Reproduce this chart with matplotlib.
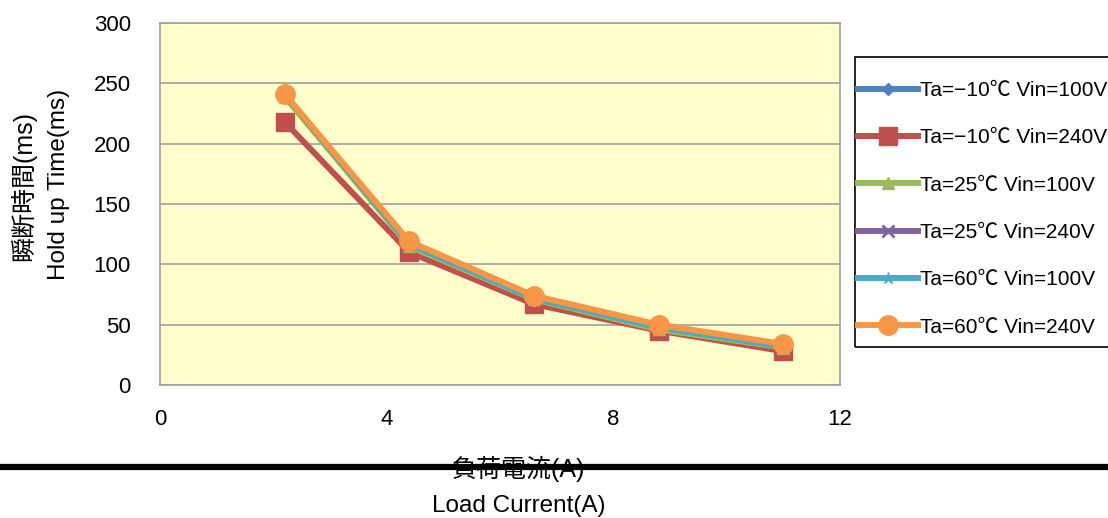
#!/usr/bin/env python3
"""Hold up time vs load current chart."""
import matplotlib.pyplot as plt
from matplotlib.lines import Line2D
from matplotlib.patches import Rectangle

plt.rcParams['font.family'] = ['Liberation Sans', 'Noto Sans CJK JP', 'DejaVu Sans']

# Data
load_current = [2.2, 4.4, 6.6, 8.8, 11.0]
labels = ['Ta=\u221210\u2103 Vin=100V', 'Ta=\u221210\u2103 Vin=240V',
          'Ta=25\u2103 Vin=100V', 'Ta=25\u2103 Vin=240V',
          'Ta=60\u2103 Vin=100V', 'Ta=60\u2103 Vin=240V']
m10_100 = [240, 116, 71, 47, 31]
m10_240 = [218, 110, 67, 45, 28]
p25_100 = [239, 115, 71, 46, 31]
p25_240 = [241, 117, 72, 48, 32]
p60_100 = [241, 117, 72, 48, 32]
p60_240 = [241, 119, 74, 50, 34]
series = [m10_100, m10_240, p25_100, p25_240, p60_100, p60_240]

colors = ['#4F81BD', '#C0504D', '#9BBB59', '#8064A2', '#4BACC6', '#F79646']
markers = ['D', 's', '^', 'x', '*', 'o']
msizes = [6, 13, 9, 9, 9, 14]

W, H = 1108, 518
fig = plt.figure(figsize=(W / 100, H / 100), dpi=100)
ax = fig.add_axes([160 / W, 1 - 385 / H, 680 / W, 362 / H])
ax.set_facecolor('#FFFFCC')

for vals, lab, c, m, ms in zip(series, labels, colors, markers, msizes):
    ax.plot(load_current, vals, color=c, marker=m, markersize=ms,
            linewidth=4.3, label=lab, markeredgewidth=2 if m == 'x' else 1,
            markeredgecolor=c)

ax.set_xlim(0, 12)
ax.set_ylim(0, 300)
ax.set_xticks([0, 4, 8, 12])
ax.set_yticks(range(0, 301, 50))
ax.grid(True, axis='y', color='#A0A0A0', linewidth=1.2)
ax.set_axisbelow(True)
for s in ax.spines.values():
    s.set_color('#A0A0A0')
    s.set_linewidth(1.2)
ax.tick_params(axis='both', labelsize=16, length=0)
ax.tick_params(axis='y', pad=21)
ax.tick_params(axis='x', pad=17)

# Axis labels as figure text
fig.text(23 / W, 1 - 186 / H, '瞬断時間(ms)', rotation=90,
         ha='center', va='center', fontsize=18)
fig.text(59 / W, 1 - 184 / H, 'Hold up Time(ms)', rotation=90,
         ha='center', va='center', fontsize=17.5)
fig.text(518 / W, 1 - 469 / H, '負荷電流(A)', ha='center', va='center',
         fontsize=18)
fig.text(519 / W, 1 - 506 / H, 'Load Current(A)', ha='center', va='center',
         fontsize=17.5)

# Thick black rule across the figure
fig.add_artist(Line2D([0, 1], [1 - 467 / H, 1 - 467 / H],
                      transform=fig.transFigure, color='black',
                      linewidth=4.5, zorder=10))

# Legend frame drawn separately so the entries can sit freely inside it
fig.add_artist(Rectangle((855 / W, 1 - 347 / H), 270 / W, 290 / H,
                         transform=fig.transFigure, fill=False,
                         edgecolor='black', linewidth=1.2))
leg = fig.legend(loc='upper left', bbox_to_anchor=(858 / W, 1 - 81 / H),
                 fontsize=15, frameon=False,
                 handlelength=2.9, labelspacing=1.36, borderpad=0,
                 handletextpad=0.1, borderaxespad=0)

plt.savefig('out.png', dpi=100)
print("Generated: out.png")
